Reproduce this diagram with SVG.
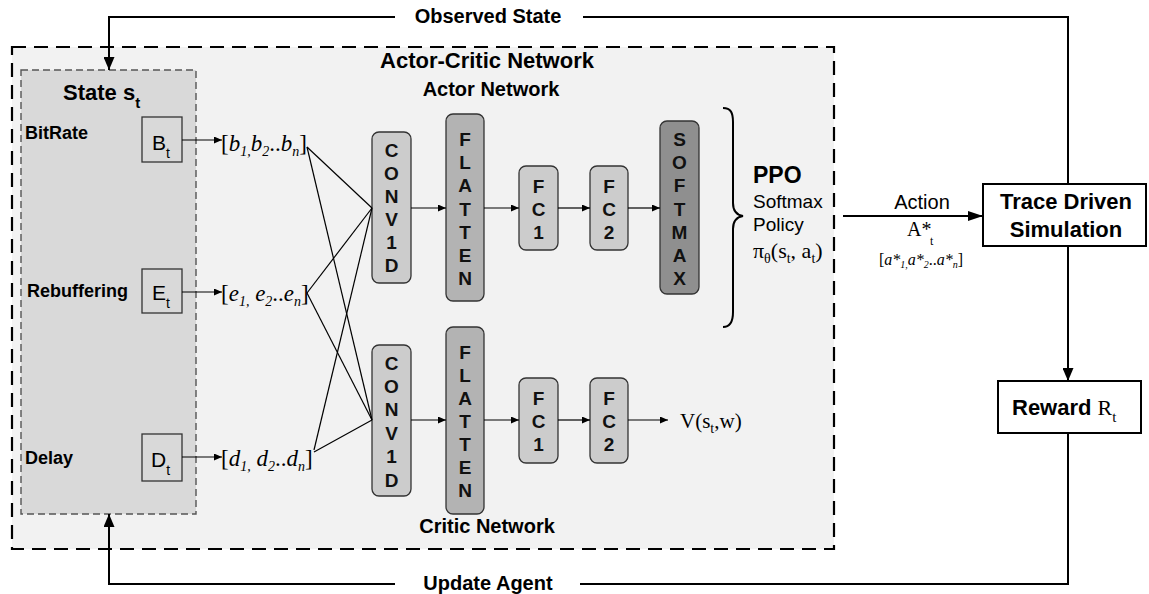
<svg xmlns="http://www.w3.org/2000/svg" width="1149" height="594" viewBox="0 0 1149 594">
  <style>
    .sans { font-family: "Liberation Sans", Arial, sans-serif; }
    .serif { font-family: "Liberation Serif", "Times New Roman", serif; }
    .b { font-weight: bold; }
    .it { font-style: italic; }
    .lbl { font-family: "Liberation Sans", Arial, sans-serif; font-weight: bold; font-size: 18px; }
    .layer { stroke: #333; stroke-width: 1.3; }
    .conv { fill: #cccccc; }
    .flat { fill: #b3b3b3; }
    .soft { fill: #8f8f8f; }
    .lt { font-family: "Liberation Sans", Arial, sans-serif; font-weight: bold; font-size: 19px; text-anchor: middle; fill: #111; }
    .thin { stroke: #000; stroke-width: 1.2; fill: none; }
    .loop { stroke: #000; stroke-width: 2; fill: none; }
  </style>
  <defs>
    <marker id="sm" markerUnits="userSpaceOnUse" markerWidth="8" markerHeight="7" refX="8" refY="3.5" orient="auto">
      <path d="M0,0 L8,3.5 L0,7 z" fill="#000"/>
    </marker>
    <marker id="lg" markerUnits="userSpaceOnUse" markerWidth="13" markerHeight="11" refX="13" refY="5.5" orient="auto">
      <path d="M0,0 L13,5.5 L0,11 z" fill="#000"/>
    </marker>
    <marker id="act" markerUnits="userSpaceOnUse" markerWidth="15" markerHeight="10" refX="15" refY="5" orient="auto">
      <path d="M0,0 L15,5 L0,10 z" fill="#000"/>
    </marker>
  </defs>

  <rect width="1149" height="594" fill="#fff"/>

  <!-- Actor-critic container -->
  <g id="actor-critic">
    <rect x="12" y="47" width="822" height="502" fill="#f2f2f2" stroke="#000" stroke-width="2.2" stroke-dasharray="14 8"/>
    <text class="sans b" x="487" y="68" font-size="22" text-anchor="middle">Actor-Critic Network</text>
    <text class="sans b" x="491" y="96" font-size="20" text-anchor="middle">Actor Network</text>
    <text class="sans b" x="487" y="533" font-size="20" text-anchor="middle">Critic Network</text>
  </g>

  <!-- State block -->
  <g id="state">
    <rect x="21" y="70" width="175" height="444" fill="#d9d9d9" stroke="#555" stroke-width="1.4" stroke-dasharray="7 4"/>
    <text class="sans b" x="63" y="100" font-size="22">State s<tspan font-size="15" dy="8">t</tspan></text>
    <text class="lbl" x="25" y="139">BitRate</text>
    <text class="lbl" x="27" y="297" font-size="18.5">Rebuffering</text>
    <text class="lbl" x="25" y="464">Delay</text>
  </g>

  <g id="bitrate">
    <rect x="142" y="117" width="40" height="45" fill="#d9d9d9" stroke="#333" stroke-width="1.3"/>
    <text class="sans" x="152" y="150" font-size="21">B<tspan font-size="14" dy="8">t</tspan></text>
  </g>
  <g id="rebuffering">
    <rect x="142" y="269" width="40" height="44" fill="#d9d9d9" stroke="#333" stroke-width="1.3"/>
    <text class="sans" x="152" y="300" font-size="21">E<tspan font-size="14" dy="8">t</tspan></text>
  </g>
  <g id="delay">
    <rect x="142" y="434" width="40" height="47" fill="#d9d9d9" stroke="#333" stroke-width="1.3"/>
    <text class="sans" x="151" y="467" font-size="21">D<tspan font-size="14" dy="8">t</tspan></text>
  </g>

  <!-- Feature vectors -->
  <g id="vec-b">
    <text class="serif" x="221" y="151" font-size="23">[<tspan class="it">b</tspan><tspan class="it" font-size="14" dy="5">1,</tspan><tspan class="it" dy="-5">b</tspan><tspan class="it" font-size="14" dy="5">2</tspan><tspan dy="-5">..</tspan><tspan class="it">b</tspan><tspan class="it" font-size="14" dy="5">n</tspan><tspan dy="-5">]</tspan></text>
  </g>
  <g id="vec-e">
    <text class="serif" x="221" y="301" font-size="23">[<tspan class="it">e</tspan><tspan class="it" font-size="14" dy="5">1,</tspan><tspan class="it" dy="-5"> e</tspan><tspan class="it" font-size="14" dy="5">2</tspan><tspan dy="-5">..</tspan><tspan class="it">e</tspan><tspan class="it" font-size="14" dy="5">n</tspan><tspan dy="-5">]</tspan></text>
  </g>
  <g id="vec-d">
    <text class="serif" x="221" y="466" font-size="23">[<tspan class="it">d</tspan><tspan class="it" font-size="14" dy="5">1,</tspan><tspan class="it" dy="-5"> d</tspan><tspan class="it" font-size="14" dy="5">2</tspan><tspan dy="-5">..</tspan><tspan class="it">d</tspan><tspan class="it" font-size="14" dy="5">n</tspan><tspan dy="-5">]</tspan></text>
  </g>

  <!-- Actor network layers -->
  <g id="actor-conv1d">
    <rect class="layer conv" x="372" y="132" width="39" height="151" rx="7"/>
    <text class="lt"><tspan x="391.5" y="157">C</tspan><tspan x="391.5" y="180">O</tspan><tspan x="391.5" y="203">N</tspan><tspan x="391.5" y="226">V</tspan><tspan x="391.5" y="249">1</tspan><tspan x="391.5" y="272">D</tspan></text>
  </g>
  <g id="actor-flatten">
    <rect class="layer flat" x="446" y="114" width="38" height="187" rx="7"/>
    <text class="lt"><tspan x="465" y="146">F</tspan><tspan x="465" y="169">L</tspan><tspan x="465" y="192">A</tspan><tspan x="465" y="216">T</tspan><tspan x="465" y="239">T</tspan><tspan x="465" y="262">E</tspan><tspan x="465" y="285">N</tspan></text>
  </g>
  <g id="actor-fc1">
    <rect class="layer conv" x="519" y="166" width="39" height="84" rx="7"/>
    <text class="lt"><tspan x="538.5" y="193">F</tspan><tspan x="538.5" y="216">C</tspan><tspan x="538.5" y="239">1</tspan></text>
  </g>
  <g id="actor-fc2">
    <rect class="layer conv" x="590" y="166" width="38" height="84" rx="7"/>
    <text class="lt"><tspan x="609" y="193">F</tspan><tspan x="609" y="216">C</tspan><tspan x="609" y="239">2</tspan></text>
  </g>
  <g id="actor-softmax">
    <rect class="layer soft" x="660" y="121" width="39" height="173" rx="7"/>
    <text class="lt"><tspan x="679.5" y="146">S</tspan><tspan x="679.5" y="169">O</tspan><tspan x="679.5" y="192">F</tspan><tspan x="679.5" y="216">T</tspan><tspan x="679.5" y="239">M</tspan><tspan x="679.5" y="262">A</tspan><tspan x="679.5" y="285">X</tspan></text>
  </g>

  <!-- Critic network layers -->
  <g id="critic-conv1d">
    <rect class="layer conv" x="372" y="345" width="39" height="151" rx="7"/>
    <text class="lt"><tspan x="391.5" y="370">C</tspan><tspan x="391.5" y="393">O</tspan><tspan x="391.5" y="416">N</tspan><tspan x="391.5" y="440">V</tspan><tspan x="391.5" y="463">1</tspan><tspan x="391.5" y="487">D</tspan></text>
  </g>
  <g id="critic-flatten">
    <rect class="layer flat" x="446" y="327" width="38" height="187" rx="7"/>
    <text class="lt"><tspan x="465" y="359">F</tspan><tspan x="465" y="382">L</tspan><tspan x="465" y="405">A</tspan><tspan x="465" y="428">T</tspan><tspan x="465" y="451">T</tspan><tspan x="465" y="474">E</tspan><tspan x="465" y="497">N</tspan></text>
  </g>
  <g id="critic-fc1">
    <rect class="layer conv" x="519" y="378" width="39" height="85" rx="7"/>
    <text class="lt"><tspan x="538.5" y="405">F</tspan><tspan x="538.5" y="428">C</tspan><tspan x="538.5" y="451">1</tspan></text>
  </g>
  <g id="critic-fc2">
    <rect class="layer conv" x="590" y="378" width="38" height="85" rx="7"/>
    <text class="lt"><tspan x="609" y="405">F</tspan><tspan x="609" y="428">C</tspan><tspan x="609" y="451">2</tspan></text>
  </g>
  <g id="value">
    <text class="serif" x="680" y="428" font-size="21">V(s<tspan font-size="14" dy="5">t</tspan><tspan dy="-5">,w)</tspan></text>
  </g>

  <!-- PPO policy -->
  <g id="ppo">
    <path d="M723,108 C731,108 733,113 733,122 L733,203 C733,211 737,215 743,216 C737,217 733,221 733,229 L733,312 C733,321 730,327 723,327" fill="none" stroke="#000" stroke-width="2"/>
    <text class="sans b" x="753" y="183" font-size="23">PPO</text>
    <text class="sans" x="753" y="208" font-size="19">Softmax</text>
    <text class="sans" x="753" y="231" font-size="19">Policy</text>
    <text class="serif" x="753" y="258" font-size="22">π<tspan font-size="14" dy="5">θ</tspan><tspan dy="-5">(s</tspan><tspan font-size="14" dy="5">t</tspan><tspan dy="-5">, a</tspan><tspan font-size="14" dy="5">t</tspan><tspan dy="-5">)</tspan></text>
  </g>

  <!-- Environment -->
  <g id="simulation">
    <rect x="983" y="184" width="163" height="62" fill="#fff" stroke="#000" stroke-width="2"/>
    <text class="sans b" x="1066" y="209" font-size="22" text-anchor="middle">Trace Driven</text>
    <text class="sans b" x="1066" y="237" font-size="22" text-anchor="middle">Simulation</text>
  </g>
  <g id="reward">
    <rect x="998" y="381" width="143" height="52" fill="#fff" stroke="#000" stroke-width="2"/>
    <text x="1012" y="415" font-size="22"><tspan class="sans b">Reward </tspan><tspan class="serif">R</tspan><tspan class="serif" font-size="15" dy="7">t</tspan></text>
  </g>

  <!-- Connectors -->
  <g id="connectors">
    <line class="thin" x1="182" y1="140" x2="222" y2="140" marker-end="url(#sm)"/>
    <line class="thin" x1="182" y1="292" x2="222" y2="292" marker-end="url(#sm)"/>
    <line class="thin" x1="182" y1="457" x2="222" y2="457" marker-end="url(#sm)"/>

    <line class="thin" x1="307" y1="147" x2="372" y2="208"/>
    <line class="thin" x1="307" y1="147" x2="372" y2="420"/>
    <line class="thin" x1="307" y1="293" x2="372" y2="208"/>
    <line class="thin" x1="307" y1="293" x2="372" y2="420"/>
    <line class="thin" x1="314" y1="450" x2="372" y2="208"/>
    <line class="thin" x1="314" y1="452" x2="372" y2="420"/>

    <line class="thin" x1="411" y1="208" x2="446" y2="208" marker-end="url(#sm)"/>
    <line class="thin" x1="484" y1="208" x2="519" y2="208" marker-end="url(#sm)"/>
    <line class="thin" x1="558" y1="208" x2="590" y2="208" marker-end="url(#sm)"/>
    <line class="thin" x1="628" y1="208" x2="660" y2="208" marker-end="url(#sm)"/>

    <line class="thin" x1="411" y1="420" x2="446" y2="420" marker-end="url(#sm)"/>
    <line class="thin" x1="484" y1="420" x2="519" y2="420" marker-end="url(#sm)"/>
    <line class="thin" x1="558" y1="420" x2="590" y2="420" marker-end="url(#sm)"/>
    <line class="thin" x1="628" y1="420" x2="668" y2="420" marker-end="url(#sm)"/>

    <!-- action -->
    <line class="loop" x1="843" y1="216" x2="983" y2="216" marker-end="url(#act)"/>
    <text class="sans" x="922" y="209" font-size="20" text-anchor="middle">Action</text>
    <text class="serif" x="907" y="236" font-size="20">A*</text>
    <text class="serif" x="930" y="245" font-size="12">t</text>
    <text class="serif" x="879" y="265" font-size="16">[<tspan class="it">a*</tspan><tspan class="it" font-size="10" dy="3">1,</tspan><tspan class="it" dy="-3">a*</tspan><tspan class="it" font-size="10" dy="3">2</tspan><tspan dy="-3">..</tspan><tspan class="it">a*</tspan><tspan class="it" font-size="10" dy="3">n</tspan><tspan dy="-3">]</tspan></text>

    <!-- simulation to reward -->
    <line class="loop" x1="1068" y1="246" x2="1068" y2="381" marker-end="url(#lg)"/>

    <!-- observed state loop -->
    <polyline class="loop" points="395,17 109,17 109,70" marker-end="url(#lg)"/>
    <polyline class="loop" points="583,17 1068,17 1068,184"/>
    <text class="sans b" x="488" y="23" font-size="20" text-anchor="middle">Observed State</text>

    <!-- update agent loop -->
    <polyline class="loop" points="1068,433 1068,584 580,584"/>
    <polyline class="loop" points="395,584 109,584 109,514" marker-end="url(#lg)"/>
    <text class="sans b" x="488" y="590" font-size="20" text-anchor="middle">Update Agent</text>
  </g>
</svg>
